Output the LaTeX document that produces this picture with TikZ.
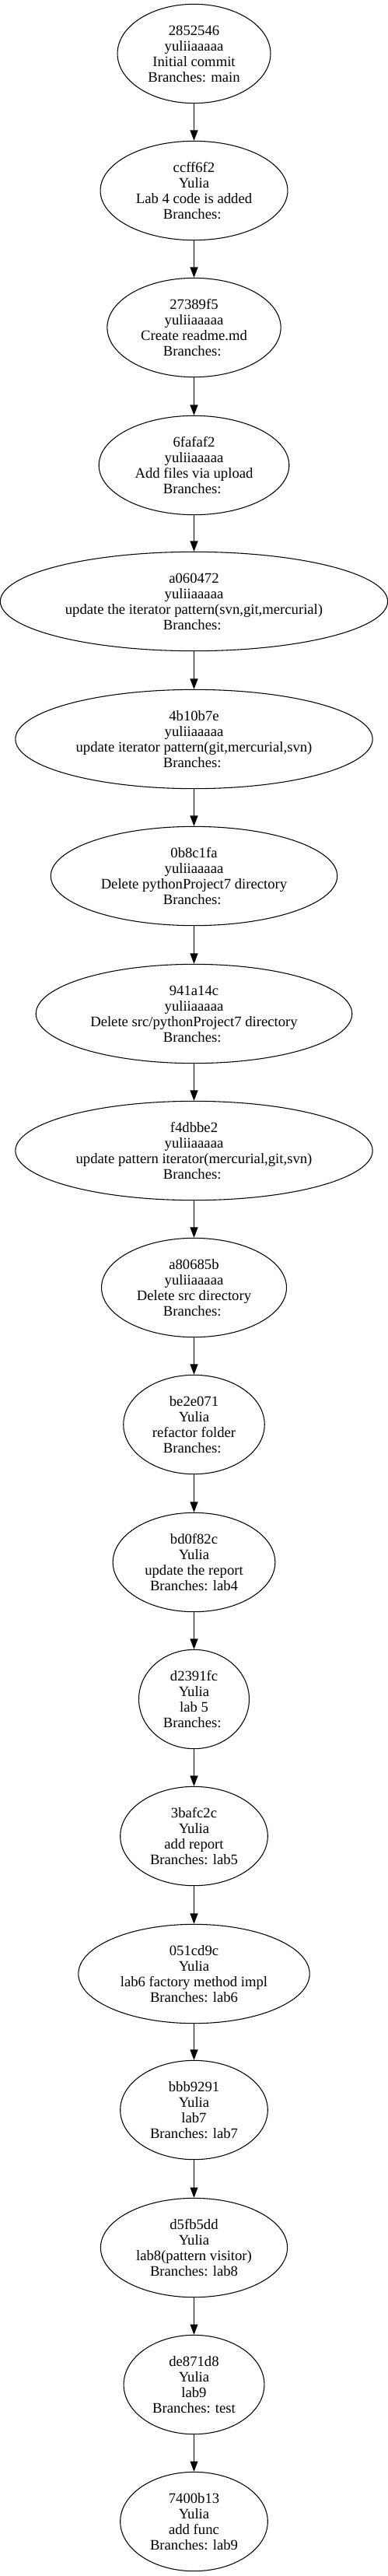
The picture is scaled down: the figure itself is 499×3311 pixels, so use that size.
\documentclass[tikz,border=0pt]{standalone}
\usepackage{fontspec}
\setmainfont{Liberation Serif}
\usetikzlibrary{shapes.geometric,arrows.meta}

\begin{document}
\begin{tikzpicture}[x=0.75pt, y=-0.75pt,
  commit/.style={ellipse, draw, line width=0.8pt, align=center, inner xsep=7.9pt, inner ysep=4pt, minimum height=95.5pt, font=\fontsize{14}{15}\selectfont},
  parent/.style={draw, line width=0.8pt, -{Triangle[length=10pt, width=7.5pt]}}]
\def\commitx{249.5}
\def\nobranch{Branches:\kern3.5pt}
\useasboundingbox (0,0) rectangle (499,3311);

% MAIN HISTORY
\node [commit] (c2852546) at (\commitx, 69) {2852546\\yuliiaaaaa\\Initial commit\\Branches: main};
\node [commit] (cccff6f2) at (\commitx, 245) {ccff6f2\\Yulia\\Lab 4 code is added\\\nobranch};
\node [commit] (c27389f5) at (\commitx, 421) {27389f5\\yuliiaaaaa\\Create readme.md\\\nobranch};
\node [commit] (c6fafaf2) at (\commitx, 598) {6fafaf2\\yuliiaaaaa\\Add files via upload\\\nobranch};
\node [commit] (ca060472) at (\commitx, 773) {a060472\\yuliiaaaaa\\update the iterator pattern(svn,git,mercurial)\\\nobranch};
\node [commit] (c4b10b7e) at (\commitx, 950) {4b10b7e\\yuliiaaaaa\\update iterator pattern(git,mercurial,svn)\\\nobranch};
\node [commit] (c0b8c1fa) at (\commitx, 1126) {0b8c1fa\\yuliiaaaaa\\Delete pythonProject7 directory\\\nobranch};
\node [commit] (c941a14c) at (\commitx, 1303) {941a14c\\yuliiaaaaa\\Delete src/pythonProject7 directory\\\nobranch};
\node [commit] (cf4dbbe2) at (\commitx, 1479) {f4dbbe2\\yuliiaaaaa\\update pattern iterator(mercurial,git,svn)\\\nobranch};
\node [commit] (ca80685b) at (\commitx, 1655) {a80685b\\yuliiaaaaa\\Delete src directory\\\nobranch};

% LAB BRANCHES
\node [commit] (cbe2e071) at (\commitx, 1831) {be2e071\\Yulia\\refactor folder\\\nobranch};
\node [commit] (cbd0f82c) at (\commitx, 2008) {bd0f82c\\Yulia\\update the report\\Branches: lab4};
\node [commit] (cd2391fc) at (\commitx, 2184) {d2391fc\\Yulia\\lab 5\\\nobranch};
\node [commit] (c3bafc2c) at (\commitx, 2360) {3bafc2c\\Yulia\\add report\\Branches: lab5};
\node [commit] (c051cd9c) at (\commitx, 2537) {051cd9c\\Yulia\\lab6 factory method impl\\Branches: lab6};
\node [commit] (cbbb9291) at (\commitx, 2712) {bbb9291\\Yulia\\lab7\\Branches: lab7};
\node [commit] (cd5fb5dd) at (\commitx, 2889) {d5fb5dd\\Yulia\\lab8(pattern visitor)\\Branches: lab8};
\node [commit] (cde871d8) at (\commitx, 3065) {de871d8\\Yulia\\lab9\\Branches: test};
\node [commit] (c7400b13) at (\commitx, 3241) {7400b13\\Yulia\\add func\\Branches: lab9};

% PARENT LINKS
\draw [parent] (c2852546) -- (cccff6f2);
\draw [parent] (cccff6f2) -- (c27389f5);
\draw [parent] (c27389f5) -- (c6fafaf2);
\draw [parent] (c6fafaf2) -- (ca060472);
\draw [parent] (ca060472) -- (c4b10b7e);
\draw [parent] (c4b10b7e) -- (c0b8c1fa);
\draw [parent] (c0b8c1fa) -- (c941a14c);
\draw [parent] (c941a14c) -- (cf4dbbe2);
\draw [parent] (cf4dbbe2) -- (ca80685b);
\draw [parent] (ca80685b) -- (cbe2e071);
\draw [parent] (cbe2e071) -- (cbd0f82c);
\draw [parent] (cbd0f82c) -- (cd2391fc);
\draw [parent] (cd2391fc) -- (c3bafc2c);
\draw [parent] (c3bafc2c) -- (c051cd9c);
\draw [parent] (c051cd9c) -- (cbbb9291);
\draw [parent] (cbbb9291) -- (cd5fb5dd);
\draw [parent] (cd5fb5dd) -- (cde871d8);
\draw [parent] (cde871d8) -- (c7400b13);
\end{tikzpicture}
\end{document}
